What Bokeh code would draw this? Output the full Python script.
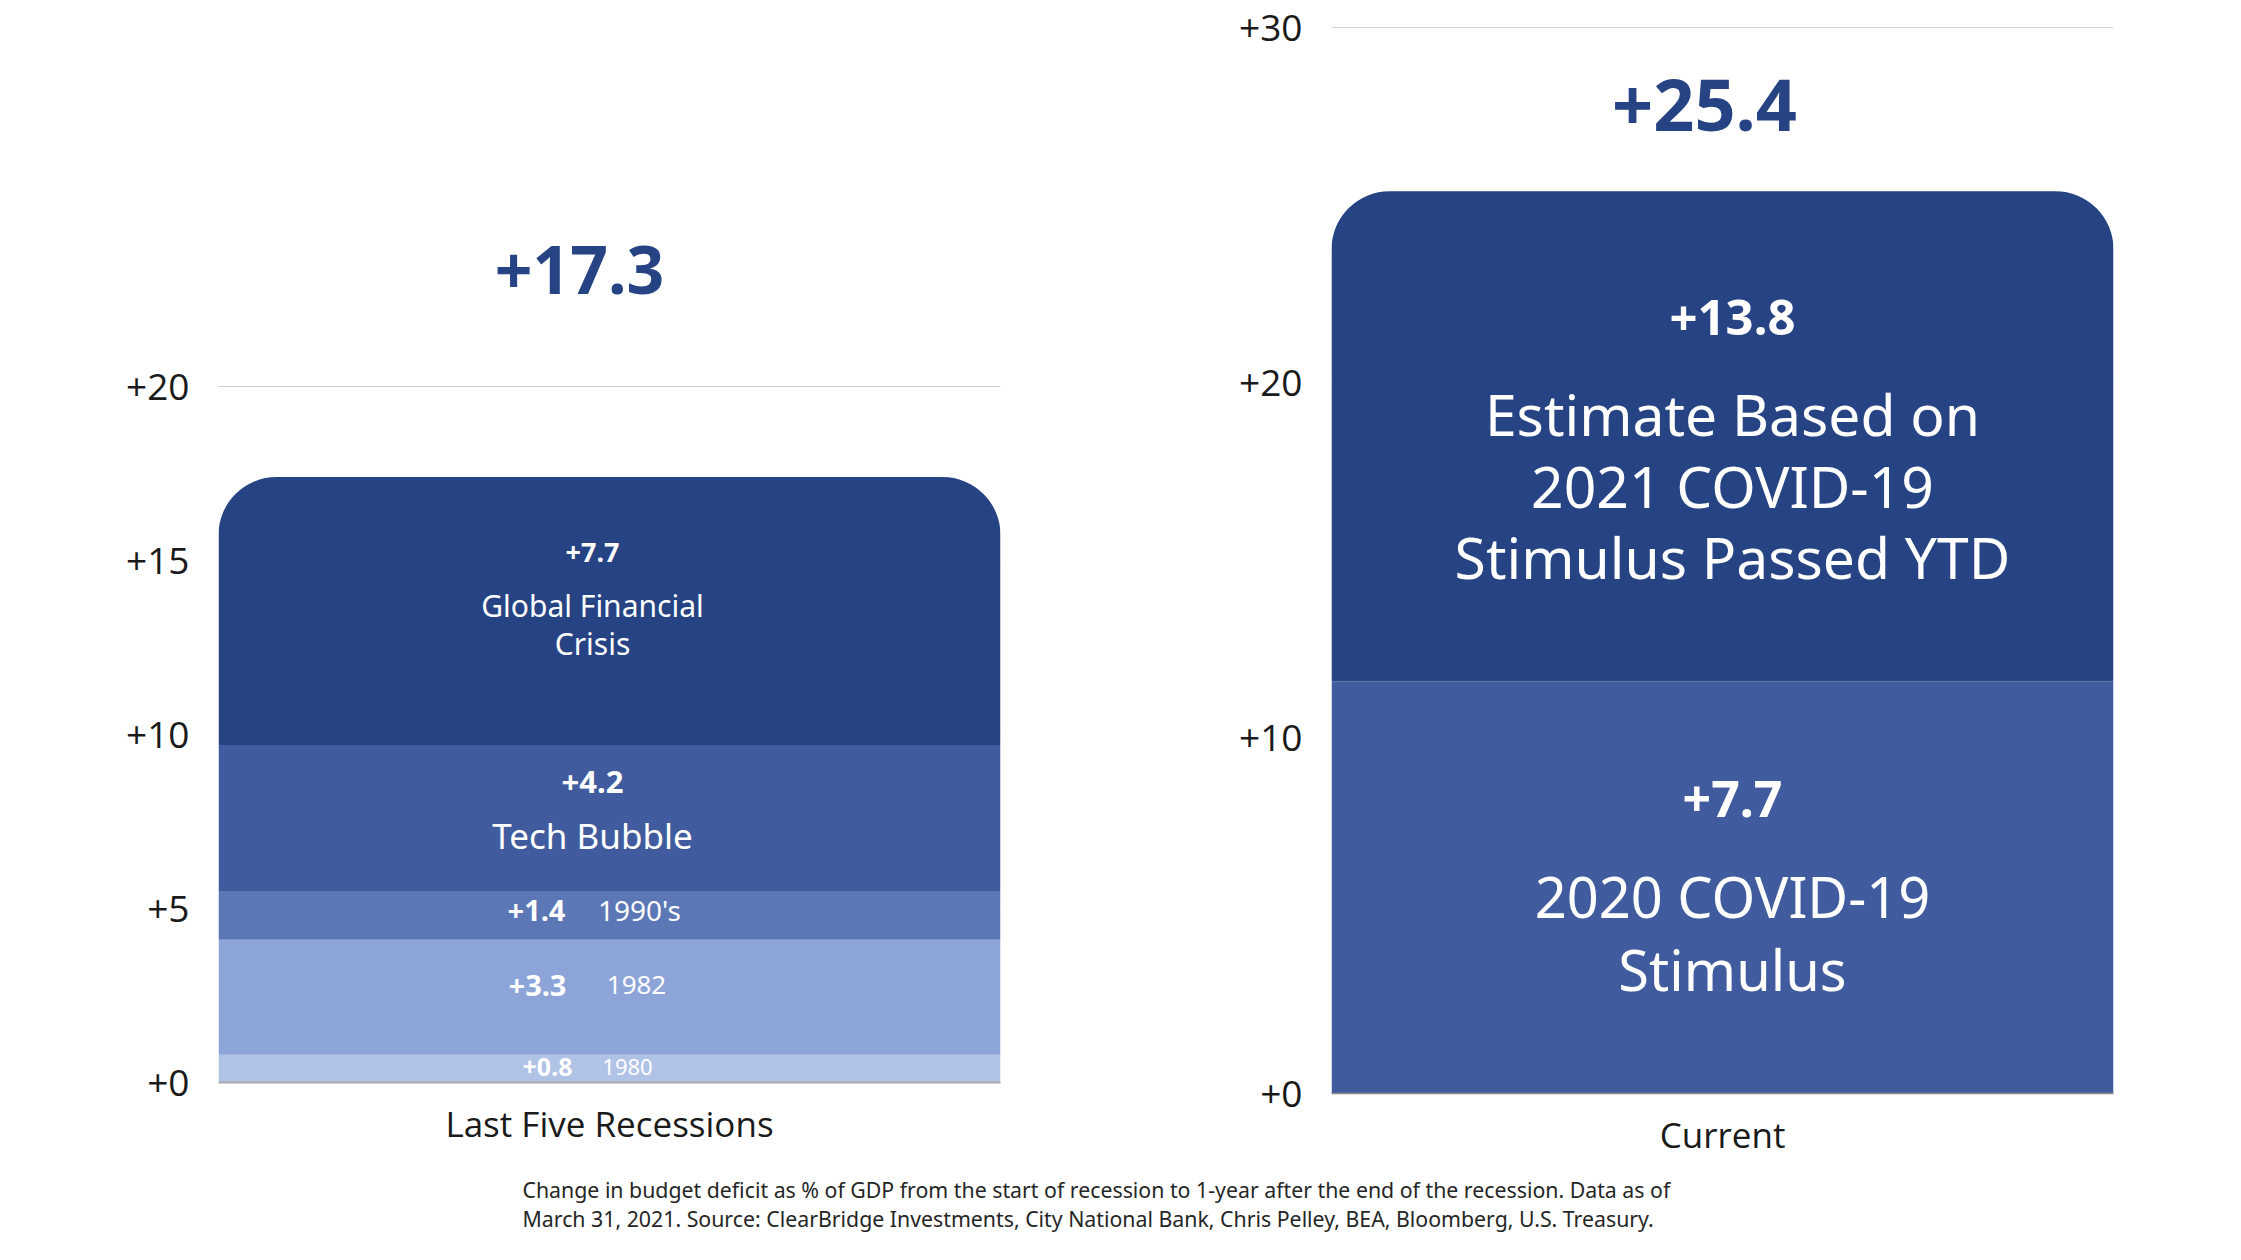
from bokeh.plotting import figure
from bokeh.models import FactorRange, Range1d, FixedTicker, PrintfTickFormatter
from bokeh.layouts import row, column
from bokeh.embed import file_html
from bokeh.resources import INLINE
from bokeh.core.properties import value

# ---------------- data ----------------
left_group = "Last Five Recessions"
left_segments = ["1980", "1982", "1990's", "Tech Bubble", "Global Financial Crisis"]
left_values = [0.8, 3.3, 1.4, 4.2, 7.7]
left_total_label = "+17.3"

right_group = "Current"
right_segments = ["2020 COVID-19 Stimulus", "Estimate Based on 2021 COVID-19 Stimulus Passed YTD"]
right_values = [11.6, 13.8]
right_value_labels = ["+7.7", "+13.8"]
right_total_label = "+25.4"

left_ticks = [0, 5, 10, 15, 20]
right_ticks = [0, 10, 20, 30]

footnote_lines = [
    "Change in budget deficit as % of GDP from the start of recession to 1-year after the end of the recession. Data as of",
    "March 31, 2021. Source: ClearBridge Investments, City National Bank, Chris Pelley, BEA, Bloomberg, U.S. Treasury.",
]

# ---------------- styles ----------------
NAVY = "#264384"
left_colors = ["#B1C2E7", "#8CA4D8", "#5B77B6", "#405C9E", NAVY]
right_colors = ["#405C9E", NAVY]
AXIS_FONT = "Open Sans"
BODY_FONT = "Noto Sans"
TICK_COLOR = "#1a1a1a"
RADIUS = 58

# label layout per segment: list of (text or None for value, dx, dy, size, bold)
left_label_layout = [
    [(None, -62, -2, 25, True), ("1980", 18, -2, 22, False)],
    [(None, -72, -12, 29, True), ("1982", 27, -12, 26, False)],
    [(None, -73, -5, 29, True), ("1990's", 30, -5, 28, False)],
    [(None, -17, -36, 31, True), ("Tech Bubble", -17, 17, 35, False)],
    [(None, -17, -58, 27, True), ("Global Financial", -17, -5, 30, False), ("Crisis", -17, 33, 30, False)],
]
right_label_layout = [
    [(None, 10, -88, 50, True), ("2020 COVID-19", 10, 9, 56, False), ("Stimulus", 10, 82, 56, False)],
    [(None, 10, -119, 49, True), ("Estimate Based on", 10, -22, 57, False),
     ("2021 COVID-19", 10, 50, 57, False), ("Stimulus Passed YTD", 10, 121, 57, False)],
]


def cum(values):
    b, t, s = [], [], 0.0
    for v in values:
        b.append(s)
        s += v
        t.append(s)
    return b, t


def txt(p, x, y, text, dx, dy, size, bold, color="white", align="center", font=BODY_FONT):
    p.text(x=[x], y=[y], text=[text], x_offset=dx, y_offset=dy,
           text_font=value(font), text_font_size=f"{size}px",
           text_font_style="bold" if bold else "normal",
           text_color=color, text_align=align, text_baseline="middle")


def base_fig(group, width, height, y_end, ticks, mb):
    p = figure(width=width, height=height, x_range=FactorRange(factors=[group], range_padding=0),
               y_range=Range1d(0, y_end), output_backend="svg", toolbar_location=None,
               min_border_left=mb[0], min_border_right=mb[1], min_border_top=mb[2], min_border_bottom=mb[3])
    p.frame_align = False
    p.outline_line_color = None
    p.background_fill_color = "white"
    p.border_fill_color = "white"
    p.xgrid.grid_line_color = None
    p.ygrid.ticker = FixedTicker(ticks=ticks)
    p.ygrid.grid_line_color = "#d0d0d0"
    p.ygrid.grid_line_width = 1
    p.yaxis.ticker = FixedTicker(ticks=ticks)
    p.yaxis.formatter = PrintfTickFormatter(format="+%d")
    p.yaxis.axis_line_color = None
    p.yaxis.major_tick_line_color = None
    p.yaxis.minor_tick_line_color = None
    p.yaxis.major_label_standoff = 23
    p.yaxis.major_label_text_font = AXIS_FONT
    p.yaxis.major_label_text_font_size = "37px"
    p.yaxis.major_label_text_color = TICK_COLOR
    p.xaxis.major_tick_line_color = None
    p.xaxis.minor_tick_line_color = None
    p.xaxis.major_label_text_font = AXIS_FONT
    p.xaxis.major_label_text_font_size = "35px"
    p.xaxis.major_label_text_color = TICK_COLOR
    p.xaxis.major_label_standoff = 11
    return p


H = 1165
# ---------------- left panel ----------------
p1 = base_fig(left_group, 1160, H, 25, left_ticks, (218, 160, 212, H - 1082))
p1.xaxis.axis_line_color = "#aaaaaa"
p1.xaxis.axis_line_width = 2
lb, lt = cum(left_values)
n = len(left_values)
p1.vbar(x=[left_group] * (n - 1), bottom=lb[:-1], top=lt[:-1], width=1,
        fill_color=left_colors[:-1], line_color=None)
p1.vbar(x=[left_group], bottom=[lb[-1]], top=[lt[-1]], width=1,
        fill_color=left_colors[-1], line_color=None, border_radius=(RADIUS, RADIUS, 0, 0))
for i, items in enumerate(left_label_layout):
    mid = (lb[i] + lt[i]) / 2
    for (t, dx, dy, size, bold) in items:
        label = f"+{left_values[i]}" if t is None else t
        txt(p1, left_group, mid, label, dx, dy, size, bold)
txt(p1, left_group, lt[-1], left_total_label, -30, -207, 66, True, color=NAVY)

# ---------------- right panel ----------------
p2 = base_fig(right_group, 2241 - 1160, H, 30.15, right_ticks, (171, 128, 22, H - 1093))
p2.xaxis.axis_line_color = "#8a8a8a"
p2.xaxis.axis_line_width = 1.5
p2.xaxis.major_label_standoff = 11
rb, rt = cum(right_values)
p2.vbar(x=[right_group], bottom=[rb[0]], top=[rt[0]], width=1,
        fill_color=right_colors[0], line_color=None)
p2.vbar(x=[right_group], bottom=[rb[1]], top=[rt[1]], width=1,
        fill_color=right_colors[1], line_color=None, border_radius=(RADIUS, RADIUS, 0, 0))
for i, items in enumerate(right_label_layout):
    mid = (rb[i] + rt[i]) / 2
    for (t, dx, dy, size, bold) in items:
        label = right_value_labels[i] if t is None else t
        txt(p2, right_group, mid, label, dx, dy, size, bold)
txt(p2, right_group, rt[-1], right_total_label, -18, -86, 72, True, color=NAVY)

# ---------------- footnote ----------------
FH = 1260 - H
p3 = figure(width=2241, height=FH, x_range=Range1d(0, 2241), y_range=Range1d(FH, 0),
            x_axis_type=None, y_axis_type=None, output_backend="svg", toolbar_location=None,
            min_border=0)
p3.frame_align = False
p3.outline_line_color = None
p3.grid.grid_line_color = None
p3.border_fill_color = "white"
for k, line in enumerate(footnote_lines):
    p3.text(x=[522], y=[24 + 29 * k], text=[line], text_font=value(BODY_FONT),
            text_font_size="21.3px", text_color="#262626", text_align="left", text_baseline="middle")

layout = column(row(p1, p2), p3)
open("out.html", "w").write(file_html(layout, INLINE))
